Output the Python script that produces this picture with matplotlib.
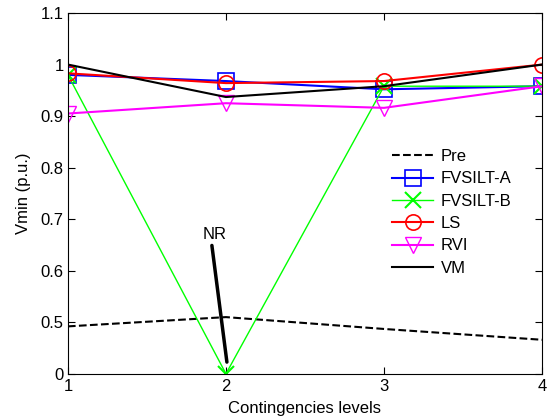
import numpy as np
import matplotlib
matplotlib.use('Agg')
import matplotlib.pyplot as plt

plt.rcParams['font.family'] = ['Liberation Sans', 'DejaVu Sans']

levels = [1, 2, 3, 4]
pre = [0.492, 0.510, 0.487, 0.466]
fvsilt_a = [0.980, 0.968, 0.952, 0.958]
fvsilt_b = [0.980, 0.0, 0.958, 0.958]
ls = [0.983, 0.964, 0.968, 1.000]
rvi = [0.905, 0.925, 0.916, 0.958]
vm = [1.000, 0.937, 0.958, 1.000]
y_ticks = [0, 0.5, 0.6, 0.7, 0.8, 0.9, 1.0, 1.1]
y_tick_labels = ['0', '0.5', '0.6', '0.7', '0.8', '0.9', '1', '1.1']

# axis is linear above 0.44, the range 0..0.44 is squeezed into 0.4..0.44
CUT = 0.44
LOW = 0.4


def fwd(y):
    y = np.asarray(y, dtype=float)
    return np.where(y >= CUT, y, LOW + y * (CUT - LOW) / CUT)


def inv(z):
    z = np.asarray(z, dtype=float)
    return np.where(z >= CUT, z, (z - LOW) * CUT / (CUT - LOW))


fig = plt.figure(figsize=(5.52, 4.2), dpi=100)
ax = fig.add_axes([0.123, 0.110, 0.859, 0.859])
ax.set_yscale('function', functions=(fwd, inv))

ax.plot(levels, pre, 'k--', lw=1.5, label='Pre')
ax.plot(levels, fvsilt_a, color='#0000ff', lw=1.5, marker='s', ms=11,
        mfc='none', mew=1.2, label='FVSILT-A')
ax.plot(levels, fvsilt_b, color='#00ff00', lw=1.0, marker='x', ms=11,
        mew=1.5, label='FVSILT-B')
ax.plot(levels, ls, color='#ff0000', lw=1.5, marker='o', ms=11,
        mfc='none', mew=1.2, label='LS')
ax.plot(levels, rvi, color='#ff00ff', lw=1.5, marker='v', ms=12,
        mfc='none', mew=1.0, label='RVI')
ax.plot(levels, vm, 'k-', lw=1.5, label='VM')

ax.annotate('', xy=(2.006, 0.25), xytext=(1.911, 0.649),
            arrowprops=dict(arrowstyle='-', lw=2.5, color='k',
                            shrinkA=0, shrinkB=0))
ax.text(1.93, 0.662, 'NR', ha='center', va='baseline', fontsize=12)

ax.set_xlim(1, 4)
ax.set_ylim(0, 1.1)
ax.set_xticks(levels)
ax.set_yticks(y_ticks)
ax.set_yticklabels(y_tick_labels)
ax.minorticks_off()
ax.tick_params(direction='in', top=True, right=True, labelsize=12, length=5)
ax.tick_params(axis='x', pad=4)
ax.tick_params(axis='y', pad=3)
ax.set_xlabel('Contingencies levels', fontsize=12, labelpad=5)
ax.set_ylabel('Vmin (p.u.)', fontsize=12, labelpad=7)

ax.legend(loc='upper left', bbox_to_anchor=(0.684, 0.623), frameon=False,
          fontsize=12, handlelength=2.45, labelspacing=0.44, borderpad=0,
          borderaxespad=0, handletextpad=0.45)

fig.savefig('out.png', dpi=100)
